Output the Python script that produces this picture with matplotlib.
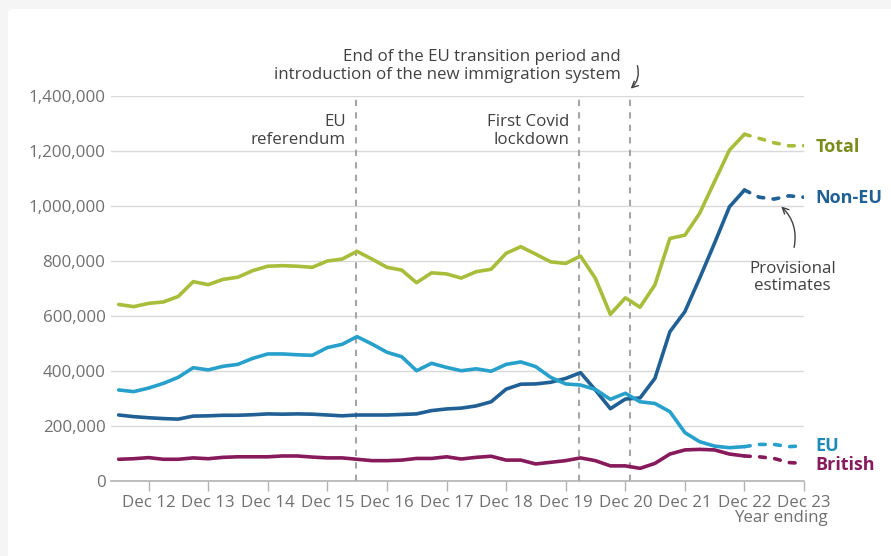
import matplotlib
matplotlib.use("Agg")
import matplotlib.pyplot as plt
from matplotlib.patches import FancyBboxPatch, FancyArrowPatch
import pandas as pd

# Year ending Jun 2012 .. Dec 2022 (final), Mar 2023 .. Dec 2023 (provisional)
quarters = pd.date_range("2012-06-30", "2023-12-31", freq="QE")
n_final = 43  # up to and including YE Dec 22

total = [642, 634, 646, 651, 671, 725, 714, 733, 741, 765, 781, 783, 781, 777,
         800, 807, 835, 807, 777, 767, 721, 757, 753, 738, 761, 770, 828, 852,
         825, 797, 791, 818, 737, 606, 666, 632, 713, 882, 894, 973, 1088, 1203,
         1261, 1246, 1230, 1219, 1219]
non_eu = [240, 234, 230, 227, 225, 236, 237, 239, 239, 241, 244, 243, 244, 243,
          240, 237, 240, 240, 240, 242, 244, 256, 262, 265, 273, 288, 334, 352,
          353, 359, 373, 394, 331, 263, 298, 302, 373, 543, 616, 737, 864, 997,
          1058, 1032, 1025, 1037, 1032]
eu = [331, 325, 338, 355, 377, 412, 404, 417, 424, 446, 462, 462, 459, 457,
      485, 497, 525, 498, 468, 452, 401, 428, 413, 401, 408, 399, 424, 433,
      416, 377, 353, 349, 333, 297, 319, 288, 282, 252, 176, 143, 127, 121,
      125, 133, 133, 125, 128]
british = [79, 81, 85, 79, 79, 84, 81, 86, 88, 88, 88, 91, 91, 87, 84, 84, 79,
           74, 74, 76, 82, 82, 88, 80, 86, 90, 76, 76, 62, 68, 74, 84, 74, 55,
           55, 46, 64, 98, 113, 115, 113, 98, 91, 88, 82, 67, 64]

series_names = ["Total", "Non-EU", "EU", "British"]
line_colors = ["#a8bd3a", "#206095", "#27a0cc", "#871a5b"]
label_colors = ["#7a8c1c", "#206095", "#1f8ab5", "#871a5b"]

tick_years = list(range(2012, 2024))
tick_labels = [f"Dec {y % 100}" for y in tick_years]
y_ticks = [0, 200000, 400000, 600000, 800000, 1000000, 1200000, 1400000]

events = [
    (pd.Timestamp("2016-06-23"), "EU\nreferendum", 1.335e6),
    (pd.Timestamp("2020-03-23"), "First Covid\nlockdown", 1.335e6),
]
transition = pd.Timestamp("2021-01-28")

FS = 12.2
plt.rcParams["font.family"] = ["Open Sans", "DejaVu Sans"]

W, H = 891, 556
fig = plt.figure(figsize=(W / 100, H / 100), dpi=100, facecolor="#f5f5f5")

# white card behind the chart
card = FancyBboxPatch((8 / W, -0.05), 1.0, 1.05 - 9 / H,
                      boxstyle="round,pad=0,rounding_size=0.008",
                      transform=fig.transFigure, facecolor="white",
                      edgecolor="none", zorder=-10)
fig.add_artist(card)

ax = fig.add_axes([111 / W, 1 - 481 / H, (804 - 111) / W, (481 - 96) / H])
ax.set_zorder(1)
ax.set_facecolor("none")

ax.set_xlim(pd.Timestamp("2012-05-14"), pd.Timestamp("2023-12-31"))
ax.set_ylim(0, 1400000)

ax.set_yticks(y_ticks)
ax.set_yticklabels([f"{v:,}" for v in y_ticks])
ax.set_xticks([pd.Timestamp(f"{y}-12-31") for y in tick_years])
ax.set_xticklabels(tick_labels)

ax.grid(axis="y", color="#d9d9d9", lw=1)
ax.set_axisbelow(True)
for s in ["top", "right", "left"]:
    ax.spines[s].set_visible(False)
ax.spines["bottom"].set_color("#b3b3b3")
ax.spines["bottom"].set_linewidth(1.2)
ax.tick_params(axis="y", length=0, pad=4, labelsize=FS, labelcolor="#707070")
ax.tick_params(axis="x", length=7, width=1, color="#b3b3b3", pad=3,
               labelsize=FS, labelcolor="#707070")

ax.text(1.035, -0.076, "Year ending", transform=ax.transAxes, ha="right",
        va="top", fontsize=FS, color="#707070")

# event lines
for date, label, ypos in events:
    ax.axvline(date, color="#a6a6a6", lw=1.5, ls=(0, (3, 3)), zorder=1)
    ax.text(date - pd.Timedelta(days=60), ypos, label, ha="right", va="top",
            fontsize=FS, color="#414042", linespacing=1.15)
ax.axvline(transition, color="#a6a6a6", lw=1.5, ls=(0, (3, 3)), zorder=1)
ax.text(pd.Timestamp("2020-12-05"), 1.448e6,
        "End of the EU transition period and\nintroduction of the new immigration system",
        ha="right", va="bottom", fontsize=FS, color="#414042",
        linespacing=1.15, clip_on=False)
ax.add_patch(FancyArrowPatch((pd.Timestamp("2021-03-10"), 1.52e6),
                             (pd.Timestamp("2021-01-20"), 1.42e6),
                             connectionstyle="arc3,rad=-0.35", arrowstyle="->",
                             mutation_scale=11, color="#414042", lw=1,
                             clip_on=False))

# series
values = [total, non_eu, eu, british]
for name, vals, lc in zip(series_names, values, line_colors):
    v = [x * 1000 for x in vals]
    ax.plot(quarters[:n_final], v[:n_final], color=lc, lw=2.6,
            solid_joinstyle="round", solid_capstyle="round", zorder=3)
    ax.plot(quarters[n_final - 1:], v[n_final - 1:], color=lc, lw=2.6,
            ls=(0, (1.6, 2.6)), dash_capstyle="round", zorder=3)

label_y = {"Total": 1.215e6, "Non-EU": 1.03e6, "EU": 1.28e5, "British": 6.0e4}
for name, tc in zip(series_names, label_colors):
    ax.text(pd.Timestamp("2024-03-10"), label_y[name], name, ha="left",
            va="center", fontsize=13, fontweight="bold", color=tc,
            clip_on=False)

# provisional estimates callout
ax.text(pd.Timestamp("2023-10-20"), 8.0e5, "Provisional\nestimates",
        ha="center", va="top", fontsize=FS, color="#414042",
        linespacing=1.1)
ax.add_patch(FancyArrowPatch((pd.Timestamp("2023-10-28"), 8.4e5),
                             (pd.Timestamp("2023-08-01"), 1.005e6),
                             connectionstyle="arc3,rad=0.3", arrowstyle="->",
                             mutation_scale=11, color="#414042", lw=1))

fig.savefig("out.png", dpi=100, facecolor=fig.get_facecolor())
